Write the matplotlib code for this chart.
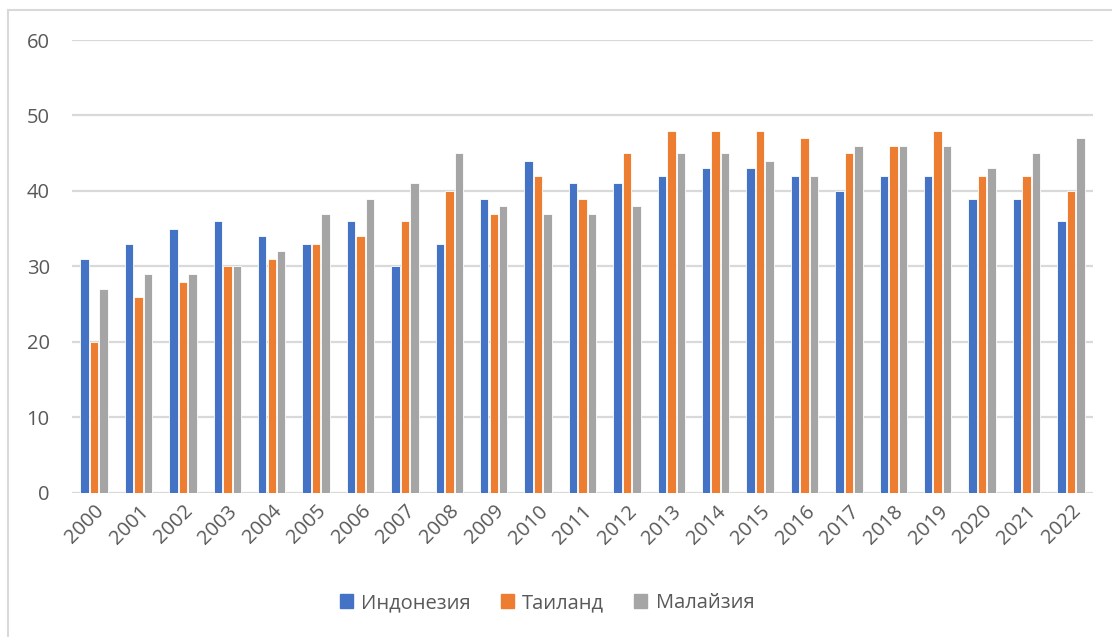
import numpy as np
import matplotlib.pyplot as plt
from matplotlib.lines import Line2D

years = [str(y) for y in range(2000, 2023)]
indonesia = [31, 33, 35, 36, 34, 33, 36, 30, 33, 39, 44, 41, 41, 42, 43, 43, 42, 40, 42, 42, 39, 39, 36]
thailand = [20, 26, 28, 30, 31, 33, 34, 36, 40, 37, 42, 39, 45, 48, 48, 48, 47, 45, 46, 48, 42, 42, 40]
malaysia = [27, 29, 29, 30, 32, 37, 39, 41, 45, 38, 37, 37, 38, 45, 45, 44, 42, 46, 46, 46, 43, 45, 47]

series_names = ['Индонезия', 'Таиланд', 'Малайзия']
colors = ['#4472C4', '#ED7D31', '#A5A5A5']

plt.rcParams['font.family'] = ['Open Sans', 'DejaVu Sans']

fig = plt.figure(figsize=(11.12, 6.37), dpi=100)
ax = fig.add_axes([0.0647, 0.2261, 0.9183, 0.7111])

x = np.arange(len(years))
width = 0.19
step = 0.215
for i, (vals, name, c) in enumerate(zip([indonesia, thailand, malaysia], series_names, colors)):
    ax.bar(x + (i - 1) * step, vals, width, color=c, label=name,
           edgecolor='white', linewidth=0.6, zorder=3)

ax.set_xlim(-0.5, len(years) - 0.5)
ax.set_ylim(0, 60)
ax.set_yticks(range(0, 61, 10))
ax.grid(axis='y', color='#D9D9D9', linewidth=1.6, zorder=0)
ax.set_axisbelow(True)
for s in ax.spines.values():
    s.set_visible(False)

ax.set_xticks(x)
ax.set_xticklabels(years, rotation=45, ha='right', rotation_mode='anchor')
ax.tick_params(axis='both', length=0, labelsize=14.5, labelcolor='#595959')
ax.tick_params(axis='y', pad=16)
ax.tick_params(axis='x', pad=6)

handles = [plt.Rectangle((0, 0), 1, 1, color=c) for c in colors]
fig.legend(handles, series_names, loc='center', bbox_to_anchor=(0.492, 0.053),
           ncol=3, frameon=False, fontsize=14.5, labelcolor='#595959',
           handlelength=0.65, handleheight=0.65, handletextpad=0.4, columnspacing=1.5)

# chart area frame (top and left edges visible)
fig.add_artist(Line2D([8 / 1112, 1], [1 - 10 / 637, 1 - 10 / 637], transform=fig.transFigure,
                      color='#D9D9D9', linewidth=1.5))
fig.add_artist(Line2D([8 / 1112, 8 / 1112], [0, 1 - 10 / 637], transform=fig.transFigure,
                      color='#D9D9D9', linewidth=1.5))

fig.savefig('out.png', dpi=100)
